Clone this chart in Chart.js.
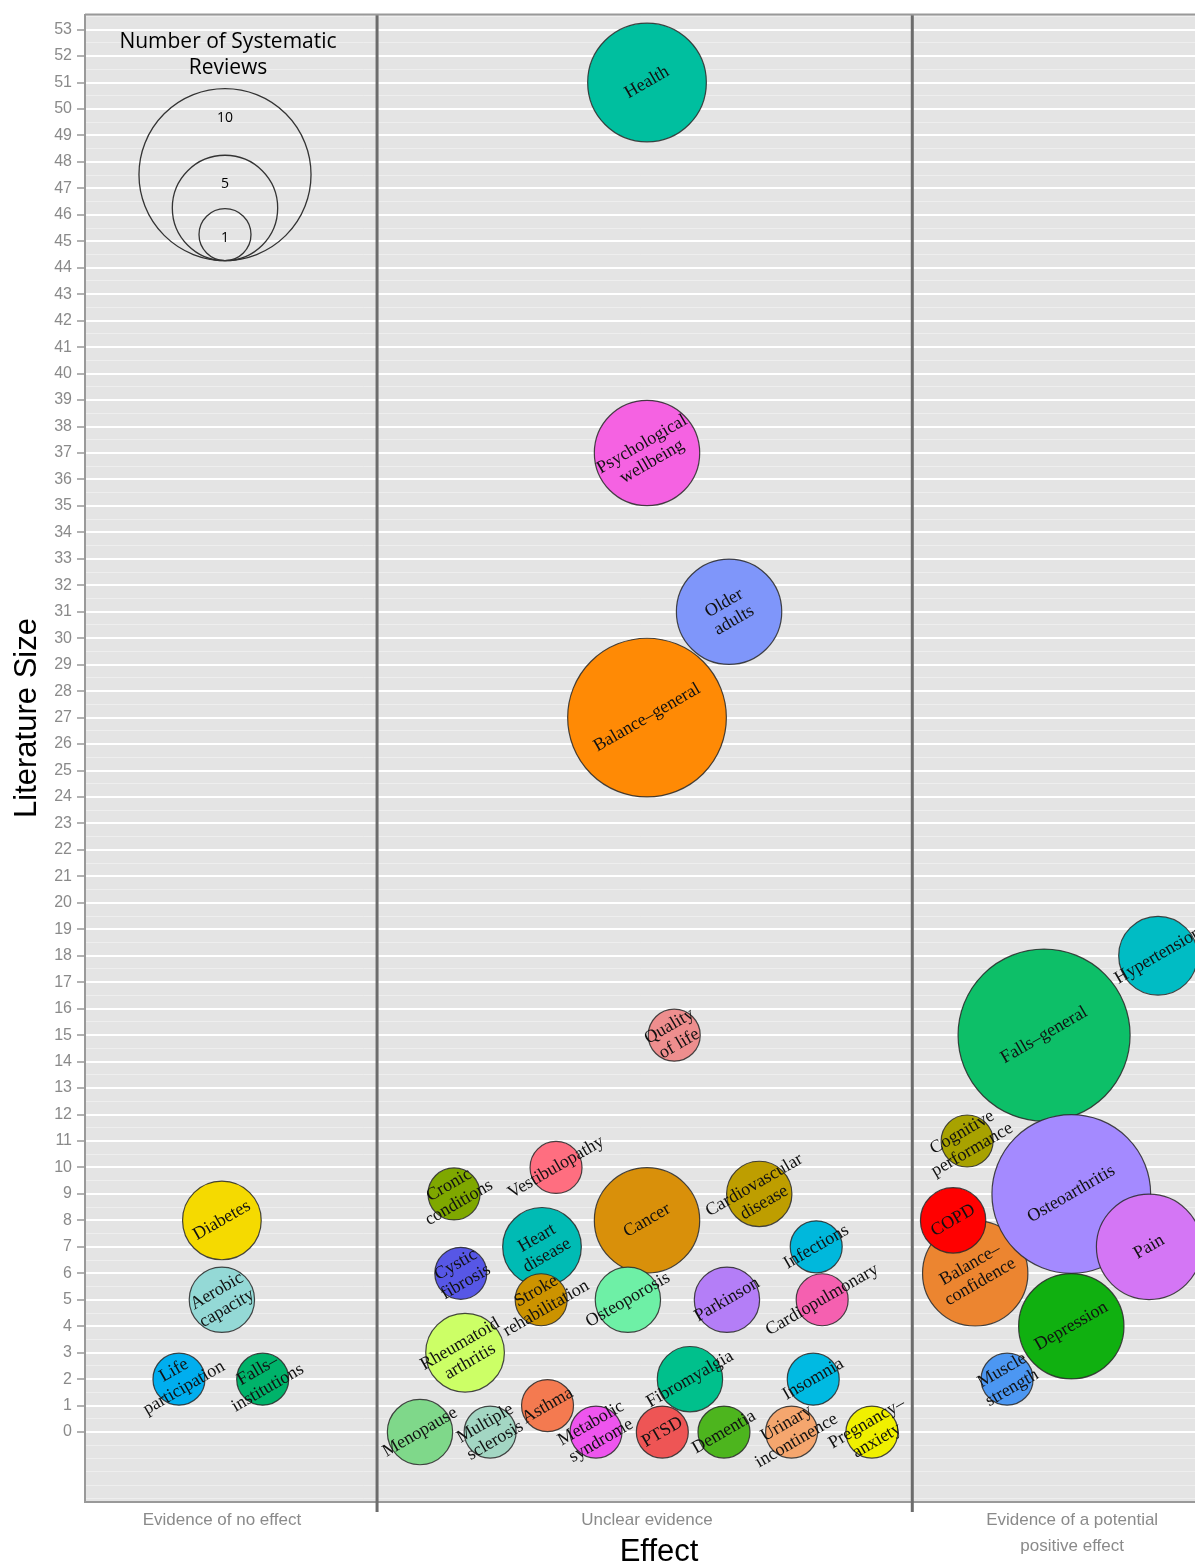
<!DOCTYPE html>
<html>
<head>
<meta charset="utf-8">
<script src="https://cdn.jsdelivr.net/npm/chart.js@4.4.1/dist/chart.umd.min.js"></script>
<style>
  html, body { margin: 0; padding: 0; background: #fff; }
  #wrap { width: 1195px; height: 1568px; }
</style>
</head>
<body>
<div id="wrap"><canvas id="bubbleChart" width="1195" height="1568"></canvas></div>
<script>
// outcome labels (line breaks as in the figure)
const topics = [
  'Health', 'Psychological\nwellbeing', 'Older\nadults', 'Balance–general', 'Quality\nof life',
  'Hypertension', 'Falls–general', 'Cognitive\nperformance', 'Balance–\nconfidence', 'COPD',
  'Osteoarthritis', 'Pain', 'Depression', 'Muscle\nstrength',
  'Diabetes', 'Aerobic\ncapacity', 'Life\nparticipation', 'Falls–\ninstitutions',
  'Cronic\nconditions', 'Vestibulopathy', 'Cancer', 'Cardiovascular\ndisease', 'Heart\ndisease',
  'Stroke\nrehabilitation', 'Infections', 'Cystic\nfibrosis', 'Osteoporosis', 'Parkinson',
  'Cardiopulmonary', 'Rheumatoid\narthritis', 'Fibromyalgia', 'Insomnia', 'Asthma',
  'Menopause', 'Multiple\nsclerosis', 'Metabolic\nsyndrome', 'PTSD', 'Dementia',
  'Urinary\nincontinence', 'Pregnancy–\nanxiety'
];

// position along the Effect axis (1 = no effect, 2 = unclear, 3 = positive)
const effectPos = [
  2.00, 2.00, 2.193, 2.00, 2.064,
  3.202, 2.934, 2.753, 2.772, 2.72,
  2.998, 3.181, 2.998, 2.847,
  1.00, 1.00, 0.899, 1.096,
  1.546, 1.786, 2.00, 2.264, 1.753,
  1.751, 2.398, 1.562, 1.955, 2.188,
  2.412, 1.572, 2.101, 2.391, 1.766,
  1.466, 1.631, 1.88, 2.036, 2.181,
  2.34, 2.529
];

// literature size
const literatureSize = [
  51, 37, 31, 27, 15,
  18, 15, 11, 6, 8,
  9, 7, 4, 2,
  8, 5, 2, 2,
  9, 10, 8, 9, 7,
  5, 7, 6, 5, 5,
  5, 3, 2, 2, 1,
  0, 0, 0, 0, 0,
  0, 0
];

// number of systematic reviews
const reviewCount = [
  6, 5, 5, 9, 1,
  3, 10, 1, 5, 2,
  9, 5, 5, 1,
  3, 2, 1, 1,
  1, 1, 5, 2, 3,
  1, 1, 1, 2, 2,
  1, 3, 2, 1, 1,
  2, 1, 1, 1, 1,
  1, 1
];

const bubbleColors = [
  '#00BF9F', '#F562E2', '#7F96FA', '#FF8A05', '#EE8E8E',
  '#00BCC4', '#0DBF68', '#A8A200', '#EC8530', '#FF0000',
  '#A48AFF', '#D476F5', '#10B010', '#4C97F2',
  '#F5DA00', '#94D9D6', '#00AEEF', '#00B36A',
  '#7FA800', '#FF6E80', '#D9900A', '#BE9E00', '#00BBB4',
  '#CC9300', '#00B8DC', '#5757E6', '#6EF0A6', '#B47EF7',
  '#F560B0', '#CCFF66', '#00C08C', '#00BAE2', '#F47A50',
  '#7FD88A', '#A3D6C3', '#EE55EE', '#EE5555', '#4DB51E',
  '#F5A66E', '#F0F000'
];

const effectTicks = [1, 2, 3];
const effectLabels = [['Evidence of no effect'], ['Unclear evidence'], ['Evidence of a potential', 'positive effect']];
const effectBreaks = [1.365, 2.624];
const legendReviews = [10, 5, 1];

// bubble radius (px) for a number of reviews
const reviewRadius = n => 26 + (n - 1) * 6.67;

const points = topics.map((t, i) => ({ x: effectPos[i], y: literatureSize[i], r: reviewRadius(reviewCount[i]) }));

const panelPlugin = {
  id: 'panel',
  beforeDraw(chart) {
    const { ctx, chartArea: a } = chart;
    ctx.save();
    ctx.fillStyle = '#E4E4E4';
    ctx.fillRect(a.left, a.top, a.right - a.left, a.bottom - a.top);
    ctx.restore();
  },
  afterDatasetsDraw(chart) {
    const { ctx, chartArea: a, scales } = chart;
    const meta = chart.getDatasetMeta(0);
    ctx.save();
    // bubble labels
    ctx.fillStyle = '#111';
    ctx.font = '18px "Liberation Serif", serif';
    ctx.textAlign = 'center';
    ctx.textBaseline = 'middle';
    meta.data.forEach((pt, i) => {
      const lines = topics[i].split('\n');
      ctx.save();
      ctx.translate(pt.x, pt.y);
      ctx.rotate(-Math.PI / 6);
      lines.forEach((ln, j) => ctx.fillText(ln, 0, (j - (lines.length - 1) / 2) * 20));
      ctx.restore();
    });

    // category separators
    ctx.strokeStyle = '#6C6C6C';
    ctx.lineWidth = 3;
    effectBreaks.forEach(b => {
      const px = scales.x.getPixelForValue(b);
      ctx.beginPath();
      ctx.moveTo(px, a.top);
      ctx.lineTo(px, a.bottom + 10);
      ctx.stroke();
    });

    // top panel border
    ctx.strokeStyle = '#999';
    ctx.lineWidth = 2;
    ctx.beginPath();
    ctx.moveTo(a.left, a.top);
    ctx.lineTo(a.right, a.top);
    ctx.stroke();

    // size legend
    const cx = a.left + 140, base = a.top + 246;
    ctx.fillStyle = '#000';
    ctx.font = '21px "Open Sans", sans-serif';
    ctx.fillText('Number of Systematic', cx + 3, 42);
    ctx.fillText('Reviews', cx + 3, 68);
    ctx.strokeStyle = '#333';
    ctx.lineWidth = 1.3;
    ctx.font = '14px "Open Sans", sans-serif';
    legendReviews.forEach(n => {
      const r = reviewRadius(n);
      ctx.beginPath();
      ctx.arc(cx, base - r, r, 0, Math.PI * 2);
      ctx.stroke();
      ctx.fillText(String(n), cx, base - 2 * r + 29);
    });

    // axis titles
    ctx.fillStyle = '#000';
    ctx.font = '31px "Liberation Sans", sans-serif';
    ctx.fillText('Effect', 659, 1552);
    ctx.translate(27, 718);
    ctx.rotate(-Math.PI / 2);
    ctx.fillText('Literature Size', 0, 0);
    ctx.restore();
  }
};

new Chart(document.getElementById('bubbleChart'), {
  type: 'bubble',
  data: {
    datasets: [{
      data: points,
      backgroundColor: bubbleColors,
      borderColor: 'rgba(40,40,40,0.85)',
      borderWidth: 1.2,
      clip: false
    }]
  },
  options: {
    responsive: false,
    animation: false,
    events: [],
    layout: { autoPadding: false, padding: { top: 12, right: 0, left: 0, bottom: 0 } },
    plugins: { legend: { display: false }, tooltip: { enabled: false } },
    scales: {
      x: {
        type: 'linear',
        min: 0.678,
        max: 3.289,
        afterBuildTicks: s => { s.ticks = effectTicks.map(v => ({ value: v })); },
        afterFit: s => { s.height = 66; },
        grid: { display: false, drawTicks: false },
        border: { display: true, color: '#999', width: 2 },
        ticks: {
          autoSkip: false,
          maxRotation: 0,
          padding: 6,
          color: '#8A8A8A',
          font: { family: 'Liberation Sans', size: 17, lineHeight: 1.5 },
          callback: v => effectLabels[effectTicks.indexOf(v)]
        }
      },
      y: {
        min: -2.642,
        max: 53.566,
        afterBuildTicks: s => {
          const t = [];
          for (let v = -2.5; v <= 53.5; v += 0.5) t.push({ value: v });
          s.ticks = t;
        },
        afterFit: s => { s.width = 85; },
        grid: {
          color: c => (Number.isInteger(c.tick.value) && c.tick.value >= 0) ? '#FFFFFF' : '#EEEEEE',
          lineWidth: c => (Number.isInteger(c.tick.value) && c.tick.value >= 0) ? 2 : 1,
          tickColor: c => (Number.isInteger(c.tick.value) && c.tick.value >= 0) ? '#999' : 'rgba(0,0,0,0)',
          tickLength: 8,
          tickWidth: 1.5
        },
        border: { display: true, color: '#999', width: 2 },
        ticks: {
          autoSkip: false,
          padding: 5,
          color: '#8A8A8A',
          font: { family: 'Liberation Sans', size: 16 },
          callback: v => (Number.isInteger(v) && v >= 0) ? String(v) : ''
        }
      }
    }
  },
  plugins: [panelPlugin]
});
</script>
</body>
</html>
